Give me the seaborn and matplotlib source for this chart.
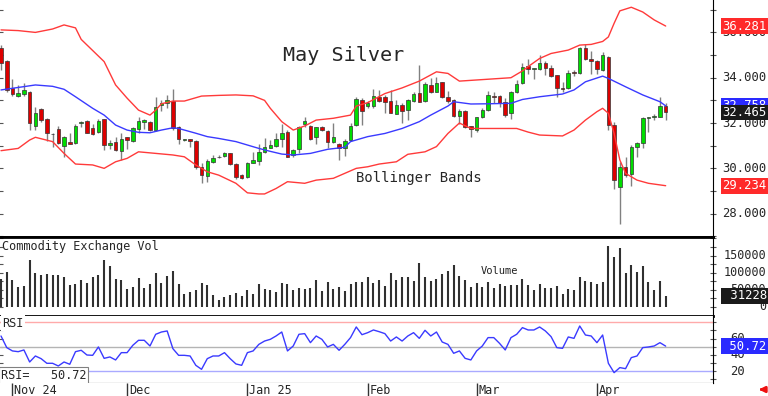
import numpy as np
import matplotlib
matplotlib.use('Agg')
import matplotlib.pyplot as plt
import seaborn as sns
from matplotlib import transforms
from matplotlib.patches import FancyArrowPatch

sns.set_style('white')
plt.rcParams['font.family'] = ['DejaVu Sans Mono', 'DejaVu Sans']

# ---- daily data (Oct 30 2024 .. Apr 17 2025) ----
open_ = [35.33, 34.75, 33.53, 33.19, 33.28, 33.37, 31.87, 32.60, 32.18, 31.50,
         31.72, 30.98, 31.16, 31.13, 32.00, 32.10, 31.76, 31.59, 32.16, 31.01,
         31.16, 30.78, 31.37, 31.22, 31.72, 32.04, 32.06, 31.69, 32.79, 32.90,
         32.99, 31.81, 31.26, 31.29, 31.22, 30.07, 29.66, 30.26, 30.52, 30.54,
         30.66, 30.19, 29.70, 29.60, 30.25, 30.34, 30.73, 30.91, 30.98, 31.29,
         31.62, 30.59, 30.84, 31.95, 31.87, 31.37, 31.84, 31.65, 31.15, 31.07,
         30.88, 31.25, 31.91, 33.02, 32.75, 32.75, 33.16, 33.13, 32.97, 32.40,
         32.79, 32.57, 32.99, 33.31, 32.97, 33.68, 33.38, 33.80, 33.16, 33.02,
         32.31, 32.53, 31.87, 31.69, 32.25, 32.57, 33.21, 33.19, 32.94, 32.43,
         33.38, 33.75, 34.52, 34.38, 34.37, 34.66, 34.41, 34.12, 33.53, 33.53,
         34.27, 34.19, 35.30, 34.81, 34.75, 34.34, 34.93, 31.91, 29.19, 30.07,
         29.75, 30.95, 31.10, 32.21, 32.25, 32.28, 32.75]
high = [35.45, 34.78, 33.93, 33.68, 33.78, 33.40, 32.69, 32.65, 32.22, 31.54,
        31.87, 31.43, 31.57, 31.95, 32.09, 32.12, 31.95, 32.16, 32.18, 31.25,
        31.40, 31.54, 31.40, 31.81, 32.28, 32.19, 32.09, 33.16, 33.01, 33.24,
        33.49, 31.87, 31.31, 31.31, 31.24, 30.22, 30.40, 30.59, 30.59, 30.72,
        30.69, 30.25, 29.75, 30.29, 30.73, 31.07, 31.32, 31.25, 31.54, 31.95,
        31.69, 30.84, 31.87, 32.25, 31.91, 31.84, 31.87, 31.70, 31.98, 31.10,
        31.28, 31.98, 33.13, 33.09, 32.97, 33.49, 33.46, 33.24, 33.46, 33.02,
        32.87, 33.05, 33.38, 34.56, 33.82, 33.97, 34.04, 33.82, 33.43, 33.06,
        32.60, 32.57, 31.88, 32.28, 32.65, 33.41, 33.38, 33.24, 33.09, 33.41,
        33.90, 34.66, 34.81, 34.45, 35.00, 34.74, 34.56, 34.14, 33.82, 34.34,
        34.34, 35.37, 35.49, 35.19, 34.77, 35.15, 34.96, 32.06, 30.30, 30.51,
        31.03, 31.18, 32.25, 32.28, 32.40, 33.16, 32.90]
low = [34.34, 33.38, 33.19, 33.13, 33.19, 31.69, 31.69, 32.06, 31.22, 30.95,
       31.07, 30.48, 31.07, 31.07, 31.81, 31.54, 31.47, 31.54, 30.81, 30.84,
       30.78, 30.37, 30.84, 31.18, 31.54, 31.72, 31.66, 31.66, 32.54, 32.65,
       31.69, 31.07, 31.20, 30.95, 29.99, 29.37, 29.41, 30.22, 30.45, 30.48,
       30.15, 29.54, 29.51, 29.57, 30.22, 30.15, 30.69, 30.88, 30.95, 30.95,
       30.48, 30.48, 30.66, 31.84, 31.25, 31.07, 31.66, 30.88, 31.10, 30.37,
       30.54, 31.22, 31.87, 31.91, 32.65, 32.65, 32.94, 32.43, 32.43, 32.38,
       31.98, 32.13, 32.94, 32.91, 32.94, 33.34, 33.35, 33.09, 32.87, 32.25,
       31.94, 31.80, 31.37, 31.62, 32.21, 32.54, 32.90, 32.70, 32.25, 32.20,
       33.34, 33.71, 34.16, 33.94, 34.34, 34.12, 34.05, 33.16, 33.38, 33.50,
       34.08, 34.16, 34.78, 34.16, 34.16, 34.31, 31.69, 29.07, 27.54, 29.63,
       29.22, 30.49, 30.90, 31.62, 32.13, 32.25, 32.13]
close = [34.63, 33.46, 33.28, 33.31, 33.46, 31.98, 32.46, 32.13, 31.54, 31.53,
         31.13, 31.37, 31.07, 31.87, 32.04, 31.57, 31.51, 32.09, 31.03, 31.13,
         30.81, 31.28, 31.25, 31.76, 32.07, 32.13, 31.69, 32.69, 32.87, 33.02,
         31.76, 31.28, 31.28, 31.22, 30.07, 29.70, 30.32, 30.47, 30.49, 30.66,
         30.18, 29.60, 29.56, 30.25, 30.37, 30.73, 30.95, 31.03, 31.28, 31.57,
         30.51, 30.81, 31.81, 32.10, 31.28, 31.81, 31.69, 31.15, 31.37, 30.88,
         31.22, 31.87, 33.06, 32.54, 32.89, 33.19, 32.99, 32.94, 32.46, 32.79,
         32.54, 33.02, 33.28, 32.94, 33.72, 33.38, 33.78, 33.13, 32.99, 32.31,
         32.51, 31.81, 31.72, 32.25, 32.57, 33.24, 33.16, 32.90, 32.35, 33.38,
         33.72, 34.49, 34.37, 34.41, 34.66, 34.41, 34.07, 33.53, 33.49, 34.22,
         34.22, 35.30, 34.81, 34.75, 34.37, 35.00, 31.91, 29.48, 30.07, 29.70,
         30.95, 31.13, 32.21, 32.28, 32.32, 32.75, 32.465]
volume = [80000, 102000, 78000, 57000, 60000, 137000, 98000, 93000, 97000, 93000,
          92000, 88000, 62000, 67000, 78000, 70000, 88000, 92000, 137000, 119000,
          82000, 77000, 51000, 57000, 83000, 54000, 65000, 98000, 70000, 90000,
          104000, 65000, 36000, 43000, 49000, 70000, 62000, 34000, 18000, 29000,
          33000, 39000, 31000, 48000, 36000, 67000, 52000, 48000, 44000, 70000,
          65000, 48000, 55000, 52000, 54000, 77000, 46000, 72000, 52000, 57000,
          46000, 67000, 73000, 73000, 88000, 70000, 77000, 60000, 98000, 77000,
          88000, 87000, 75000, 127000, 88000, 75000, 80000, 95000, 104000, 123000,
          90000, 77000, 58000, 68000, 56000, 73000, 53000, 65000, 60000, 63000,
          63000, 82000, 63000, 50000, 65000, 55000, 55000, 60000, 36000, 51000,
          48000, 87000, 75000, 73000, 66000, 73000, 178000, 147000, 171000, 98000,
          121000, 101000, 119000, 73000, 50000, 75000, 31228]
rsi = [63.2, 48.9, 44.8, 43.9, 46.0, 31.2, 38.6, 35.3, 29.6, 29.6,
       26.3, 31.2, 28.4, 43.9, 45.6, 39.8, 39.4, 49.7, 35.7, 37.4,
       33.7, 42.7, 42.7, 51.7, 57.9, 57.9, 50.9, 65.3, 68.1, 69.4,
       47.6, 39.4, 39.4, 38.6, 27.1, 22.2, 35.3, 38.6, 38.6, 42.7,
       35.3, 28.8, 27.1, 42.7, 44.8, 52.9, 57.0, 59.1, 63.2, 68.1,
       44.8, 50.9, 65.3, 66.1, 55.0, 63.2, 59.1, 49.7, 52.9, 45.6,
       52.9, 61.2, 74.3, 64.8, 67.3, 70.6, 68.5, 66.1, 57.0, 62.0,
       57.0, 63.2, 67.3, 60.3, 70.2, 63.2, 68.1, 55.8, 52.9, 41.9,
       44.8, 35.7, 33.7, 44.8, 50.9, 61.2, 61.2, 54.2, 46.0, 61.2,
       65.3, 73.5, 70.6, 70.6, 74.3, 69.4, 62.4, 48.9, 48.0, 62.0,
       60.3, 75.5, 64.4, 63.2, 55.0, 64.4, 29.6, 18.1, 24.3, 23.0,
       36.6, 38.6, 48.9, 49.7, 50.9, 55.0, 50.72]

# Bollinger bands (20-day), read at sample days
upper_day = [0, 3, 6, 9, 11, 13, 14, 16, 18, 20, 22, 24, 26, 27, 28, 30, 32, 35, 38,
             41, 44, 46, 47, 49, 51, 53, 55, 58, 61, 62, 64, 67, 70, 73, 76, 78, 80,
             83, 86, 89, 91, 92, 94, 96, 99, 101, 103, 105, 106, 107, 108, 110, 112,
             114, 116]
upper_val = [36.11, 36.08, 36.00, 36.15, 36.33, 36.20, 35.69, 35.20, 34.71, 33.68,
             33.10, 32.57, 32.35, 32.57, 32.85, 32.97, 32.97, 33.19, 33.22, 33.24,
             33.20, 33.00, 32.65, 32.06, 31.69, 31.87, 32.13, 32.21, 32.35, 32.75,
             32.90, 33.30, 33.55, 33.85, 34.26, 34.19, 33.85, 33.90, 33.95, 34.00,
             34.30, 34.49, 34.85, 35.07, 35.22, 35.44, 35.47, 35.60, 35.80, 36.40,
             36.95, 37.11, 36.90, 36.55, 36.281]
mid_day = [0, 3, 6, 9, 11, 13, 16, 18, 20, 22, 24, 26, 28, 30, 31, 34, 36, 38, 41,
           43, 45, 47, 49, 51, 54, 57, 60, 61, 64, 67, 70, 73, 75, 78, 79, 82, 85,
           89, 91, 94, 98, 100, 102, 105, 106, 109, 112, 115, 116]
mid_val = [33.46, 33.57, 33.68, 33.62, 33.49, 33.16, 32.65, 32.35, 31.91, 31.69,
           31.59, 31.57, 31.69, 31.79, 31.76, 31.55, 31.40, 31.32, 31.18, 31.03,
           30.88, 30.75, 30.63, 30.59, 30.66, 30.84, 30.93, 31.18, 31.40, 31.54,
           31.76, 32.06, 32.35, 32.75, 32.94, 32.84, 32.85, 32.87, 33.04, 33.16,
           33.28, 33.46, 33.82, 34.07, 33.97, 33.60, 33.24, 32.94, 32.758]
lower_day = [0, 3, 5, 6, 9, 11, 13, 16, 18, 20, 22, 24, 27, 30, 32, 34, 36, 38, 41,
             43, 45, 46, 48, 50, 53, 55, 58, 60, 62, 64, 66, 69, 71, 74, 76, 78, 80,
             82, 86, 90, 92, 94, 98, 100, 102, 104, 105, 106, 107, 108, 109, 111,
             113, 116]
lower_val = [30.78, 30.88, 31.25, 31.37, 31.18, 30.66, 30.19, 30.15, 30.00, 30.29,
             30.44, 30.73, 30.66, 30.59, 30.51, 30.15, 29.85, 29.70, 29.34, 28.92,
             28.87, 28.87, 29.11, 29.41, 29.34, 29.48, 29.56, 29.78, 30.00, 30.07,
             30.19, 30.29, 30.62, 30.73, 30.96, 31.54, 32.00, 31.76, 31.76, 31.76,
             31.60, 31.47, 31.43, 31.69, 32.13, 32.50, 32.65, 32.43, 31.54, 30.37,
             29.78, 29.48, 29.34, 29.234]

month_day = [2, 22, 43, 64, 83, 104]
month_labels = ['Nov 24', 'Dec', 'Jan 25', 'Feb', 'Mar', 'Apr']
price_ticks = [28, 30, 32, 34, 36]
volume_ticks = [0, 50000, 100000, 150000]
rsi_ticks = [20, 40, 60]
rsi_levels = [80, 50, 20]

open_, high, low, close = map(np.array, (open_, high, low, close))
volume = np.array(volume)
days = np.arange(len(close))

W, H = 768, 396
fig = plt.figure(figsize=(W / 100, H / 100), dpi=100)


def px_box(x0, y0, x1, y1):
    return [x0 / W, 1 - y1 / H, (x1 - x0) / W, (y1 - y0) / H]


ax_p = fig.add_axes(px_box(0, 0, 713, 237))
ax_v = fig.add_axes(px_box(0, 237, 713, 316))
ax_r = fig.add_axes(px_box(0, 316, 713, 383))
ax_d = fig.add_axes(px_box(0, 383, 713, 396))

xlim = (-0.175, 124.26)
for ax in (ax_p, ax_v, ax_r, ax_d):
    ax.set_xlim(*xlim)
    ax.set_xticks([])
    ax.set_facecolor('white')
    for s in ax.spines.values():
        s.set_color('black')

# ---- price panel ----
up = close >= open_
ax_p.vlines(days, low, high, color='#808080', lw=1, zorder=2)
ax_p.bar(days, np.where(np.abs(close - open_) < 0.03, 0.03, close - open_), bottom=open_,
         width=0.62, color=np.where(up, '#00dd00', '#dd0000'),
         edgecolor='#333333', linewidth=0.5, zorder=3)
sns.lineplot(x=upper_day, y=upper_val, ax=ax_p, color='#ff3a3a', lw=1, zorder=4)
sns.lineplot(x=lower_day, y=lower_val, ax=ax_p, color='#ff3a3a', lw=1, zorder=4)
sns.lineplot(x=mid_day, y=mid_val, ax=ax_p, color='#3a3aff', lw=1, zorder=4)
ax_p.set_ylim(26.97, 37.43)
ax_p.set_yticks(np.arange(27, 38))
ax_p.spines['top'].set_visible(False)
ax_p.spines['left'].set_visible(False)
ax_p.spines['bottom'].set_linewidth(2)
ax_p.text(0.4825, 0.766, 'May Silver', transform=ax_p.transAxes, ha='center',
          va='center', fontsize=14.5)
ax_p.text(0.5877, 0.249, 'Bollinger Bands', transform=ax_p.transAxes, ha='center',
          va='center', fontsize=10)

# ---- volume panel ----
ax_v.vlines(days, 0, volume, color='#303030', lw=1.5)
ax_v.set_ylim(-27900, 204400)
ax_v.set_yticks(np.arange(0, 200001, 25000))
ax_v.spines['left'].set_visible(False)
ax_v.spines['top'].set_linewidth(2)
ax_v.spines['bottom'].set_linewidth(2)
ax_v.text(2 / 713, 1 - 3 / 79, 'Commodity Exchange Vol', transform=ax_v.transAxes,
          ha='left', va='top', fontsize=8.6)
ax_v.text(481 / 713, 0.573, 'Volume', transform=ax_v.transAxes, ha='left',
          va='center', fontsize=7.5, color='#222222')

# ---- RSI panel ----
for lvl, c in zip(rsi_levels, ['#ffaaaa', '#b4b4b4', '#aaaaff']):
    ax_r.axhline(lvl, color=c, lw=1, zorder=1)
sns.lineplot(x=days, y=rsi, ax=ax_r, color='#3a3aff', lw=1, zorder=3)
ax_r.set_ylim(5.35, 87.8)
ax_r.set_yticks(np.arange(10, 81, 10))
ax_r.spines['left'].set_visible(False)
ax_r.spines['top'].set_visible(False)
ax_r.text(2 / 713, 0.895, 'RSI', transform=ax_r.transAxes, ha='left', va='center',
          fontsize=8.6, zorder=5,
          bbox=dict(boxstyle='square,pad=0.1', fc='white', ec='none'))
ax_r.text(1 / 713, 0.11, f'RSI=   {rsi[-1]:.2f}', transform=ax_r.transAxes, ha='left',
          va='center', fontsize=8.6, zorder=6,
          bbox=dict(boxstyle='square,pad=0.15', fc='white', ec='#808080', lw=0.8))

for ax in (ax_p, ax_v, ax_r):
    ax.tick_params(axis='y', left=True, right=True, labelleft=False, labelright=False,
                   direction='inout', length=5, width=0.8, color='#555555')
    ax.set_ylabel('')
    ax.set_xlabel('')

# ---- date strip ----
ax_d.set_ylim(0, 1)
ax_d.set_yticks([])
for s in ax_d.spines.values():
    s.set_visible(False)
ax_d.vlines(month_day, 0, 1, color='#333333', lw=1)
for d, lab in zip(month_day, month_labels):
    ax_d.text(d + 0.35, 0.45, lab, ha='left', va='center', fontsize=8.5)

# ---- right-hand scale labels and last-value boxes ----
tr_p = transforms.blended_transform_factory(fig.transFigure, ax_p.transData)
tr_v = transforms.blended_transform_factory(fig.transFigure, ax_v.transData)
tr_r = transforms.blended_transform_factory(fig.transFigure, ax_r.transData)
for t in price_ticks:
    ax_p.text(722 / W, t, f'{t:.3f}', transform=tr_p, ha='left', va='center',
              fontsize=8.8, zorder=5)
for t in volume_ticks:
    ax_v.text(766 / W, t, f'{t}', transform=tr_v, ha='right', va='center',
              fontsize=8.5, zorder=5)
for t in rsi_ticks:
    ax_r.text(730 / W, t, f'{t}', transform=tr_r, ha='left', va='center',
              fontsize=8.8, zorder=5)


def value_box(ax, tr, y, s, fc, x=722, ha='left'):
    ax.text(x / W, y, s, transform=tr, ha=ha, va='center', fontsize=8.8, color='white',
            zorder=10, bbox=dict(boxstyle='square,pad=0.12', fc=fc, ec='none'))


value_box(ax_p, tr_p, upper_val[-1], f'{upper_val[-1]:.3f}', '#ff2a2a')
value_box(ax_p, tr_p, lower_val[-1], f'{lower_val[-1]:.3f}', '#ff2a2a')
value_box(ax_p, tr_p, mid_val[-1], f'{mid_val[-1]:.3f}', '#2a2aff')
value_box(ax_p, tr_p, close[-1], f'{close[-1]:.3f}', '#1a1a1a')
value_box(ax_v, tr_v, volume[-1], f' {volume[-1]}', '#1a1a1a', x=767, ha='right')
value_box(ax_r, tr_r, rsi[-1], f' {rsi[-1]:.2f}', '#2a2aff')

fig.add_artist(FancyArrowPatch((766, 6.5), (756, 6.5), transform=None,
                               arrowstyle='-|>', mutation_scale=8, color='#ee1111', lw=2))

fig.savefig('out.png', dpi=100)
